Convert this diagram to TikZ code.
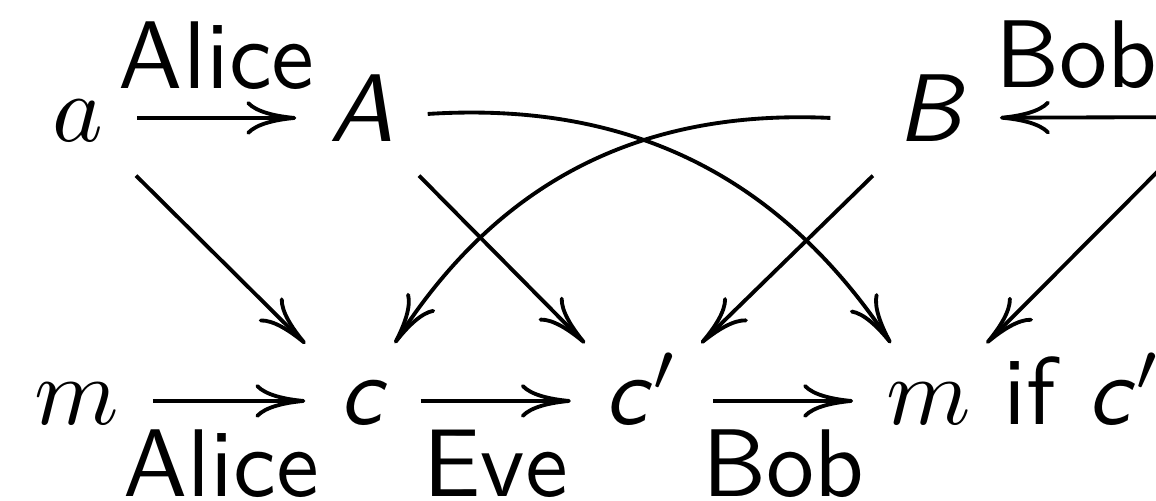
\documentclass[tikz,border=0pt]{standalone}
\usepackage{amsmath}
\usetikzlibrary{arrows.meta, positioning}
\newcommand{\slsf}[1]{\textsf{\itshape #1\/}}

\begin{document}
\begin{tikzpicture}[x=0.104pt, y=-0.104pt, font=\sffamily,
    >={Computer Modern Rightarrow[length=5.2pt, width=3.5pt]},
    obj/.style={anchor=base, inner sep=3.3pt, text height=5pt, text depth=0pt},
    lbl/.style={inner sep=2.8pt}]
  \useasboundingbox (0,0) rectangle (1156,501);
  \clip (0,0) rectangle (1156,501);

  % top row
  \node[obj] (a) at (78,142) {$a$};
  \node[obj] (A) at (362,142) {\slsf{A}};
  \node[obj] (B) at (932,142) {\slsf{B}};
  \coordinate (b) at (1212,117);

  % bottom row
  \node[obj] (m) at (77,425) {$m$};
  \node[obj] (c) at (363,425) {\slsf{c}};
  \node[obj] (cp) at (642,425) {$\slsf{c}'$};
  \node[obj] (out) at (929,425) {$m$\rlap{ if $\slsf{c}'$}};

  % horizontal arrows
  \draw[->] (a) -- node[lbl, above] {Alice} (A);
  \draw[->] (b) -- node[lbl, above, pos=0.64] {Bob} (B);
  \draw[->] (m) -- node[lbl, below, xshift=-0.8pt] {Alice} (c);
  \draw[->] (c) -- node[lbl, below] {Eve} (cp);
  \draw[->] (cp) -- node[lbl, below] {Bob} (out);

  % diagonals
  \draw[->] (a) -- (c);
  \draw[->] (A) -- (cp);
  \draw[->] (B) -- (cp);
  \draw[->] (b) -- (out);

  % curved ones
  \draw[->] (A) to[bend left=30] (out);
  \draw[->] ([xshift=-3.5pt]B.west) to[bend right=30] (c);
\end{tikzpicture}
\end{document}
